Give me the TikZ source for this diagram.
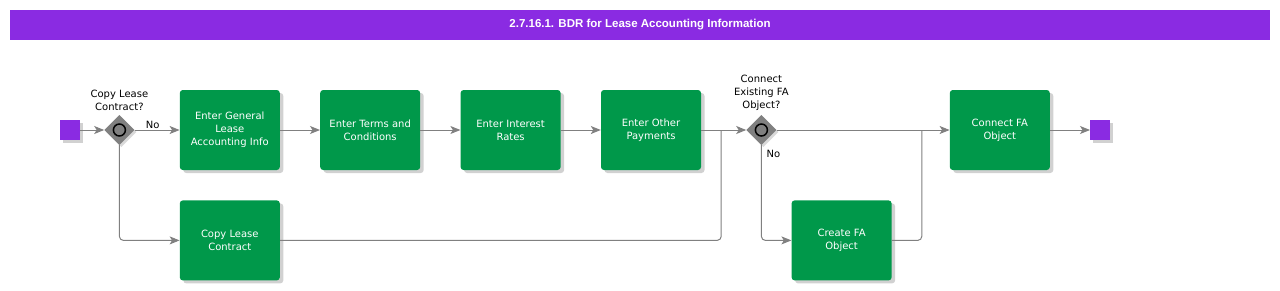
\documentclass[tikz,border=0pt]{standalone}
\usepackage{fontspec}
\setsansfont{DejaVu Sans}
\newfontfamily\titlefont{Liberation Sans}
\usetikzlibrary{arrows.meta,positioning,shapes.geometric,shadows,calc}
\definecolor{bdrpurple}{HTML}{8A2BE2}
\definecolor{taskgreen}{HTML}{00984A}
\definecolor{flowgray}{HTML}{808080}
\tikzset{
  taskbox/.style={
    rectangle, rounded corners=3pt, fill=taskgreen, text=white,
    minimum width=100pt, minimum height=80pt,
    font=\fontsize{10}{13}\selectfont\sffamily, align=center,
    inner sep=2pt,
    drop shadow={shadow xshift=3.5pt, shadow yshift=-3pt, fill=black!18, opacity=1}
  },
  eventbox/.style={
    rectangle, fill=bdrpurple, minimum size=20pt, inner sep=0pt,
    drop shadow={shadow xshift=3pt, shadow yshift=-3pt, fill=black!18, opacity=1}
  },
  gatewaybox/.style={
    diamond, fill=flowgray, minimum size=30pt, inner sep=0pt,
    drop shadow={shadow xshift=2pt, shadow yshift=-2pt, fill=black!15, opacity=1}
  },
  gatewaymark/.style={
    circle, draw=black, fill=flowgray, line width=1.5pt,
    minimum size=12pt, inner sep=0pt
  },
  gatelabel/.style={font=\fontsize{10}{13}\selectfont\sffamily, align=center, inner sep=1pt, text=black},
  flowarrow/.style={-{Stealth[length=10pt,width=8pt,inset=2.5pt]}, flowgray, line width=1pt},
  flowline/.style={flowgray, line width=1pt, rounded corners=4pt},
}
\begin{document}
\begin{tikzpicture}
    \useasboundingbox (0,0) rectangle (1280pt,-290pt);
    \node[fill=bdrpurple, minimum width=1260pt, minimum height=30pt, inner sep=0pt, text=white,
          font=\titlefont\bfseries\fontsize{11.5}{13}\selectfont] (title) at (640pt,-25pt)
          {2.7.16.1. BDR for Lease Accounting Information};
    % upper lane
    \node[eventbox] (start) at (70pt,-130pt) {};
    \node[gatewaybox, right=24pt of start] (copygw) {};
    \node[gatewaymark] at (copygw.center) {};
    \node[gatelabel, above=3pt of copygw] (copyq) {Copy Lease\\Contract?};
    \node[taskbox, right=45pt of copygw] (general) {Enter General\\Lease\\Accounting Info};
    \node[taskbox, right=40pt of general] (terms) {Enter Terms and\\Conditions};
    \node[taskbox, right=40pt of terms] (rates) {Enter Interest\\Rates};
    \node[taskbox, right=40pt of rates] (payments) {Enter Other\\Payments};
    \node[gatewaybox, right=45pt of payments] (fagw) {};
    \node[gatewaymark] at (fagw.center) {};
    \node[gatelabel, above=3pt of fagw] (faq) {Connect\\Existing FA\\Object?};
    \node[taskbox, right=173pt of fagw] (connectfa) {Connect FA\\Object};
    \node[eventbox, right=40pt of connectfa] (end) {};
    % lower lane
    \node[taskbox, below=30pt of general] (copylease) {Copy Lease\\Contract};
    \node[taskbox, anchor=west] (createfa) at ([xshift=30pt]fagw.center |- copylease.west) {Create FA\\Object};
    % flows
    \draw[flowarrow] (start) -- (copygw);
    \draw[flowarrow] (copygw) -- (general) node[gatelabel, pos=0.4, above] {No};
    \draw[flowarrow, rounded corners=4pt] (copygw.south) |- (copylease.west);
    \draw[flowarrow] (general) -- (terms);
    \draw[flowarrow] (terms) -- (rates);
    \draw[flowarrow] (rates) -- (payments);
    \draw[flowarrow] (payments) -- (fagw);
    \draw[flowline] (copylease.east) -| ([xshift=20pt]payments.east);
    \draw[flowarrow] (fagw) -- (connectfa);
    \draw[flowarrow, rounded corners=4pt] (fagw.south) |- (createfa.west);
    \node[gatelabel, anchor=north west] at ([xshift=4pt,yshift=-4pt]fagw.south) {No};
    \draw[flowline] (createfa.east) -| ([xshift=30pt]createfa.east |- connectfa.west);
    \draw[flowarrow] (connectfa) -- (end);
\end{tikzpicture}
\end{document}
